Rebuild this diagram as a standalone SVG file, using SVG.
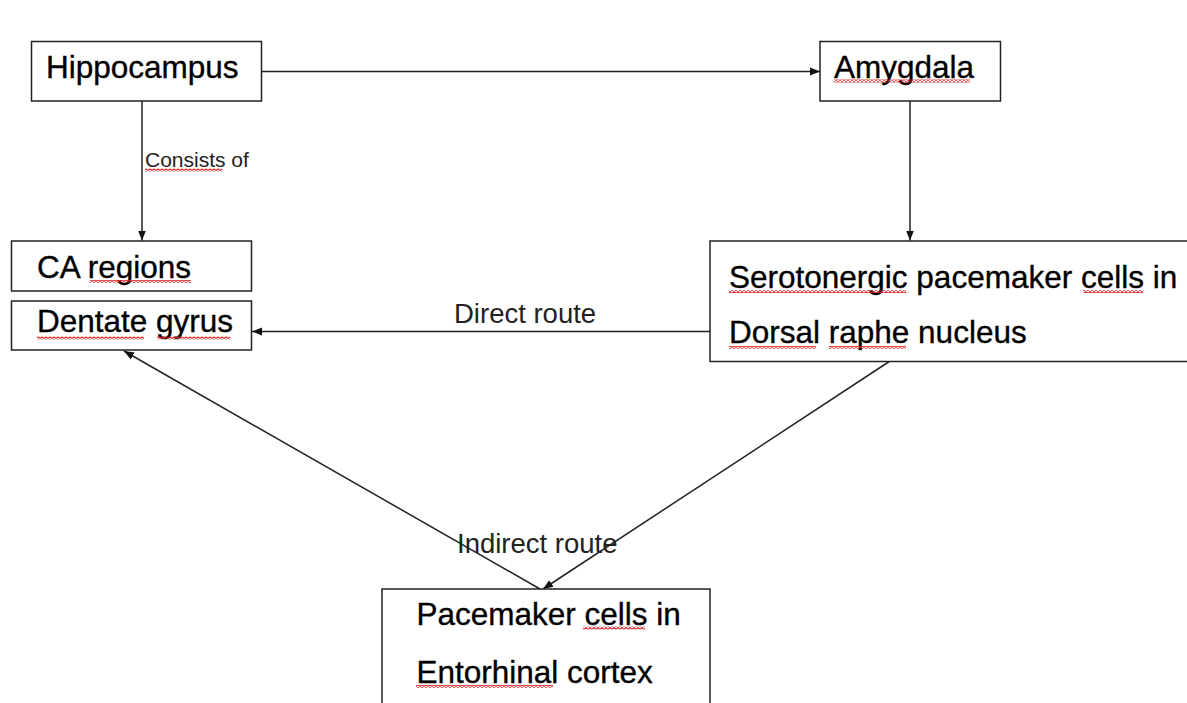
<svg xmlns="http://www.w3.org/2000/svg" width="1187" height="703" viewBox="0 0 1187 703">
<style>
.box{fill:#fff;stroke:#222;stroke-width:1.5}
.t{font-family:"Liberation Sans",Arial,sans-serif;font-size:31.5px;fill:#000;stroke:#000;stroke-width:0.35}
.lbl{font-family:"Liberation Sans",Arial,sans-serif;font-size:27.5px;fill:#222}
.small{font-family:"Liberation Sans",Arial,sans-serif;font-size:21px;fill:#222}
.ln{stroke:#222;stroke-width:1.5;fill:none}
.sq{fill:url(#squig)}
</style>
<defs>
<pattern id="squig" patternUnits="userSpaceOnUse" width="4" height="3">
<path d="M0,2.5 L2,0.5 L4,2.5" fill="none" stroke="#e02020" stroke-width="1.1"/>
</pattern>
<marker id="ah" viewBox="0 0 10 10" refX="10" refY="5" markerWidth="10" markerHeight="10" markerUnits="userSpaceOnUse" orient="auto">
<path d="M0,1 L10,5 L0,9 Z" fill="#111"/>
</marker>
</defs>
<rect width="1187" height="703" fill="#fff"/>
<g id="connectors">
<line class="ln" x1="262" y1="71.5" x2="820" y2="71.5" marker-end="url(#ah)"/>
<line class="ln" x1="142" y1="101" x2="142" y2="240.5" marker-end="url(#ah)"/>
<line class="ln" x1="910" y1="101" x2="910" y2="240.5" marker-end="url(#ah)"/>
<line class="ln" x1="710" y1="331.5" x2="252" y2="331.5" marker-end="url(#ah)"/>
<line class="ln" x1="890" y1="361" x2="543" y2="589" marker-end="url(#ah)"/>
<line class="ln" x1="540" y1="589" x2="124" y2="351" marker-end="url(#ah)"/>
<text class="small" x="145" y="166.5">Consists of</text>
<rect class="sq" x="145" y="168.5" width="77" height="3"/>
<text class="lbl" x="454" y="323">Direct route</text>
<text class="lbl" x="457" y="553">Indirect route</text>
</g>
<g id="hippocampus">
<rect class="box" x="31.5" y="41.5" width="230" height="59.5"/>
<text class="t" x="46" y="78">Hippocampus</text>
</g>
<g id="amygdala">
<rect class="box" x="820" y="41.5" width="180.5" height="59.5"/>
<text class="t" x="834" y="78">Amygdala</text>
<rect class="sq" x="834" y="79.5" width="136" height="3"/>
</g>
<g id="ca-regions">
<rect class="box" x="11.5" y="241" width="240" height="50"/>
<text class="t" x="37" y="278">CA regions</text>
<rect class="sq" x="90" y="280" width="101" height="3"/>
</g>
<g id="dentate-gyrus">
<rect class="box" x="11.5" y="301" width="240" height="49"/>
<text class="t" x="37" y="331.5">Dentate gyrus</text>
<rect class="sq" x="37" y="336.5" width="107" height="3"/>
<rect class="sq" x="157" y="336.5" width="73" height="3"/>
</g>
<g id="serotonergic">
<rect class="box" x="710" y="241" width="500" height="120.5"/>
<text class="t" x="729" y="288">Serotonergic pacemaker cells in</text>
<text class="t" x="729" y="343">Dorsal raphe nucleus</text>
<rect class="sq" x="729" y="290" width="177" height="3"/>
<rect class="sq" x="1083" y="290" width="60" height="3"/>
<rect class="sq" x="729" y="346" width="87" height="3"/>
<rect class="sq" x="829" y="346" width="77" height="3"/>
</g>
<g id="entorhinal">
<rect class="box" x="382" y="589" width="328" height="130"/>
<text class="t" x="416.5" y="625">Pacemaker cells in</text>
<text class="t" x="416.5" y="683">Entorhinal cortex</text>
<rect class="sq" x="583" y="626.5" width="62" height="3"/>
<rect class="sq" x="416" y="685" width="137" height="3"/>
</g>
</svg>
